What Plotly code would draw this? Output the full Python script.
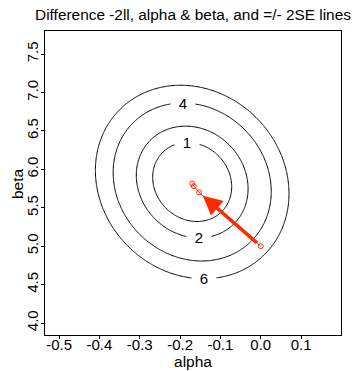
import numpy as np
import plotly.graph_objects as go

# ---- data ----
alpha_hat = -0.170      # centre of the -2ll surface
beta_hat = 5.835
se_alpha = 0.098        # half-width of level-1 contour
se_beta = 0.514         # half-height of level-1 contour
rho = -0.12             # correlation (tilt)
levels = [1, 2, 4, 6]
label_side = {1: "top", 2: "bottom", 4: "top", 6: "bottom"}

path_alpha = [0.0, -0.153, -0.166, -0.170]
path_beta = [5.0, 5.70, 5.78, 5.815]

x_ticks = [-0.5, -0.4, -0.3, -0.2, -0.1, 0.0, 0.1]
x_tick_text = ["-0.5", "-0.4", "-0.3", "-0.2", "-0.1", "0.0", "0.1"]
y_ticks = [4.0, 4.5, 5.0, 5.5, 6.0, 6.5, 7.0, 7.5]
y_tick_text = ["4.0", "4.5", "5.0", "5.5", "6.0", "6.5", "7.0", "7.5"]

# ---- surface ----
ga = np.linspace(-0.6, 0.25, 301)
gb = np.linspace(3.6, 8.1, 301)
A, B = np.meshgrid(ga, gb)
dx = (A - alpha_hat) / se_alpha
dy = (B - beta_hat) / se_beta
Z = (dx**2 - 2 * rho * dx * dy + dy**2) / (1 - rho**2)

FONT = "Liberation Sans, Arial, Helvetica, sans-serif"

fig = go.Figure()
for L in levels:
    fig.add_trace(go.Contour(
        x=ga, y=gb, z=Z,
        contours=dict(start=L, end=L, size=1, coloring="lines", showlabels=False),
        colorscale=[[0, "black"], [1, "black"]],
        showscale=False, line=dict(width=1), hoverinfo="skip",
    ))

# path of estimates (thin) with open circles
fig.add_trace(go.Scatter(
    x=path_alpha, y=path_beta, mode="lines+markers",
    line=dict(color="#ff2a00", width=1),
    marker=dict(symbol="circle-open", size=5, color="#ff2a00", line=dict(width=1)),
    hoverinfo="skip",
))

# thick arrow from first to second estimate
fig.add_annotation(
    x=path_alpha[1], y=path_beta[1], ax=path_alpha[0], ay=path_beta[0],
    xref="x", yref="y", axref="x", ayref="y",
    showarrow=True, arrowhead=2, arrowsize=1.1, arrowwidth=3.5,
    arrowcolor="#ff2a00", text="", standoff=5, startstandoff=3,
)

# contour labels
for L in levels:
    s = np.sqrt(L)
    if label_side[L] == "top":
        lx = alpha_hat + rho * se_alpha * s
        ly = beta_hat + se_beta * s
    else:
        lx = alpha_hat - rho * se_alpha * s
        ly = beta_hat - se_beta * s
    fig.add_annotation(
        x=lx, y=ly, xref="x", yref="y", text=str(L), showarrow=False,
        bgcolor="white", width=24, height=13, borderpad=0,
        font=dict(family=FONT, size=15, color="black"),
    )

# y axis title as a rotated annotation (placed closer to the axis like R)
fig.add_annotation(
    x=-0.0946, y=0.5, xref="paper", yref="paper", text="beta",
    showarrow=False, textangle=-90, xanchor="center", yanchor="middle",
    font=dict(family=FONT, size=15.5, color="black"),
)

fig.update_layout(
    width=357, height=371,
    margin=dict(l=45, r=16, t=31, b=36),
    paper_bgcolor="white", plot_bgcolor="white",
    showlegend=False,
    font=dict(family=FONT, size=15, color="black"),
    title=dict(text="Difference -2ll, alpha & beta, and =/- 2SE lines",
               x=0.5, xref="paper", xanchor="center",
               y=1 - 15 / 371, yref="container", yanchor="middle",
               font=dict(family=FONT, size=15.4, color="black")),
)
fig.update_xaxes(
    range=[-0.535, 0.199], tickvals=x_ticks, ticktext=x_tick_text,
    showgrid=False, zeroline=False, showline=True, mirror=True,
    linecolor="black", linewidth=1, ticks="outside", ticklen=3,
    tickcolor="black", tickfont=dict(size=15), automargin=False,
    ticklabelstandoff=-7,
    title=dict(text="alpha", standoff=0, font=dict(size=15.5)),
)
fig.update_yaxes(
    range=[3.844, 7.80], tickvals=y_ticks, ticktext=y_tick_text,
    showgrid=False, zeroline=False, showline=True, mirror=True,
    linecolor="black", linewidth=1, ticks="outside", ticklen=3,
    tickcolor="black", tickangle=-90, tickfont=dict(size=15), automargin=False,
    ticklabelstandoff=-3,
)

fig.write_html("out.html")
